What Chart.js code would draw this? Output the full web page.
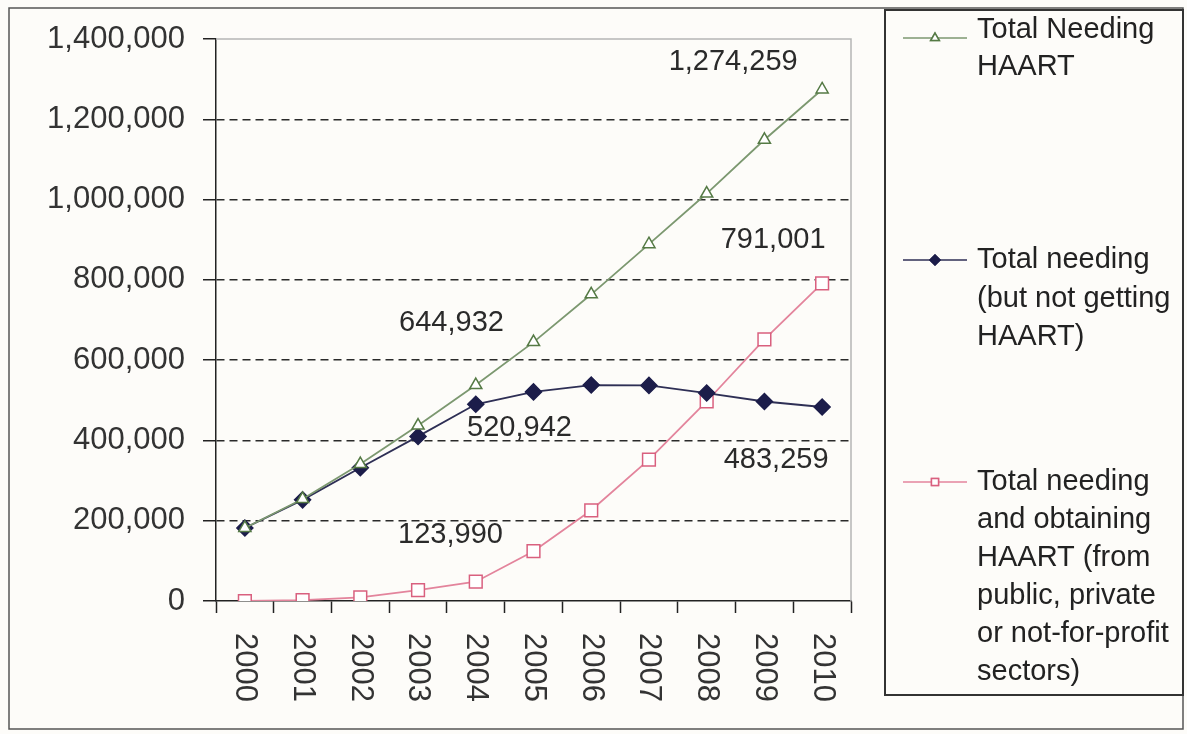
<!DOCTYPE html>
<html>
<head>
<meta charset="utf-8">
<style>
  html, body { margin: 0; padding: 0; background: #fdfcf9; }
  canvas { display: block; }
</style>
<script src="https://cdn.jsdelivr.net/npm/chart.js@4.4.1/dist/chart.umd.min.js"></script>
</head>
<body>
<canvas id="c" width="1187" height="734"></canvas>
<script>
// ---- data ----
const categories = ['2000','2001','2002','2003','2004','2005','2006','2007','2008','2009','2010'];
const totalNeeding = [182000, 254000, 341000, 437000, 538000, 644932, 764000, 889000, 1015000, 1149000, 1274259];
const needingNotGetting = [182000, 252000, 332000, 410000, 490000, 520942, 538000, 537000, 518000, 497000, 483259];
const needingObtaining = [0, 2000, 9000, 27000, 48000, 123990, 226000, 352000, 497000, 652000, 791001];
const yTickValues = [0, 200000, 400000, 600000, 800000, 1000000, 1200000, 1400000];
const seriesNames = [
  ['Total Needing', 'HAART'],
  ['Total needing', '(but not getting', 'HAART)'],
  ['Total needing', 'and obtaining', 'HAART (from', 'public, private', 'or not-for-profit', 'sectors)']
];
// which points carry a value label: [datasetIndex, pointIndex]
const labelledPoints = [[0,10],[2,10],[0,5],[1,5],[1,10],[2,5]];

// ---- styling ----
const labelOffsets = [[-89,-27],[-49,-43],[-82,-19],[-14,36],[-46,53],[-83,-16]];
const legendLayout = [
  {markerY: 38, lineYs: [30, 67]},
  {markerY: 260, lineYs: [260, 299, 337]},
  {markerY: 482, lineYs: [482, 520, 558, 596, 634, 672]}
];
const FONT = '"Liberation Sans", Arial, sans-serif';
const styles = [
  {line: '#7c9870', stroke: '#557a45', fill: '#ffffff', pointStyle: 'triangle', radius: 7},
  {line: '#2e2f55', stroke: '#1c1d4a', fill: '#1c1d4a', pointStyle: 'rectRot', radius: 8},
  {line: '#e3849c', stroke: '#d9607f', fill: '#ffffff', pointStyle: 'rect', radius: 9}
];
const seriesData = [totalNeeding, needingNotGetting, needingObtaining];
const fmt = v => v.toLocaleString('en-US');

const decorPlugin = {
  id: 'decor',
  beforeDraw(chart) {
    const ctx = chart.ctx;
    ctx.save();
    ctx.fillStyle = '#fdfcf9';
    ctx.fillRect(0, 0, chart.width, chart.height);
    ctx.restore();
  },
  beforeDatasetsDraw(chart) {
    const ctx = chart.ctx, a = chart.chartArea;
    ctx.save();
    ctx.strokeStyle = '#b5b5b5';
    ctx.lineWidth = 1.5;
    ctx.beginPath();
    ctx.moveTo(a.left, a.top);
    ctx.lineTo(a.right, a.top);
    ctx.lineTo(a.right, a.bottom);
    ctx.stroke();
    ctx.restore();
  },
  afterDraw(chart) {
    const ctx = chart.ctx;
    const xs = chart.scales.x;
    ctx.save();
    // x tick labels, rotated clockwise
    ctx.fillStyle = '#333';
    ctx.font = '31px ' + FONT;
    ctx.textAlign = 'left';
    ctx.textBaseline = 'middle';
    categories.forEach((c, i) => {
      const x = xs.getPixelForValue(i);
      ctx.save();
      ctx.translate(x, chart.chartArea.bottom + 32);
      ctx.rotate(Math.PI / 2);
      ctx.fillText(c, 0, 0);
      ctx.restore();
    });
    // value labels
    ctx.font = '29px ' + FONT;
    ctx.textAlign = 'center';
    ctx.fillStyle = '#2a2a2a';
    labelledPoints.forEach(([d, i], k) => {
      const pt = chart.getDatasetMeta(d).data[i];
      ctx.fillText(fmt(seriesData[d][i]), pt.x + labelOffsets[k][0], pt.y + labelOffsets[k][1]);
    });
    // outer frame
    ctx.strokeStyle = '#555';
    ctx.lineWidth = 1.5;
    ctx.strokeRect(9, 8, 1174, 721);
    // legend box
    ctx.strokeStyle = '#333';
    ctx.lineWidth = 2;
    ctx.strokeRect(885, 10, 298, 685);
    // legend entries
    ctx.font = '29px ' + FONT;
    ctx.textAlign = 'left';
    ctx.fillStyle = '#222';
    seriesNames.forEach((lines, s) => {
      const st = styles[s], L = legendLayout[s];
      ctx.strokeStyle = st.line;
      ctx.lineWidth = 1.5;
      ctx.beginPath();
      ctx.moveTo(903, L.markerY);
      ctx.lineTo(967, L.markerY);
      ctx.stroke();
      Chart.helpers.drawPoint(ctx, {pointStyle: st.pointStyle, radius: 5, borderWidth: 1.5, rotation: 0}, 935, L.markerY);
      ctx.fillStyle = st.fill;
      ctx.strokeStyle = st.stroke;
      ctx.fill();
      ctx.stroke();
      ctx.fillStyle = '#222';
      lines.forEach((t, j) => ctx.fillText(t, 977, L.lineYs[j]));
    });
    ctx.restore();
  }
};

new Chart(document.getElementById('c'), {
  type: 'line',
  data: {
    labels: categories,
    datasets: seriesData.map((d, s) => ({
      label: seriesNames[s].join(' '),
      data: d,
      borderColor: styles[s].line,
      borderWidth: 1.8,
      tension: 0,
      pointStyle: styles[s].pointStyle,
      pointRadius: styles[s].radius,
      pointBorderColor: styles[s].stroke,
      pointBackgroundColor: styles[s].fill,
      pointBorderWidth: 1.5,
      fill: false
    }))
  },
  options: {
    responsive: false,
    animation: false,
    devicePixelRatio: 1,
    layout: { padding: { top: 39, right: 336, bottom: 0, left: 0 } },
    plugins: { legend: { display: false }, tooltip: { enabled: false } },
    scales: {
      x: {
        offset: true,
        grid: { display: true, offset: true, drawOnChartArea: false, drawTicks: true, tickLength: 12, tickColor: '#222', tickWidth: 1.5 },
        border: { display: true, color: '#222', width: 1.5 },
        ticks: { display: false },
        afterFit(s) { s.height = 133; }
      },
      y: {
        min: 0,
        max: 1400000,
        afterBuildTicks(s) { s.ticks = yTickValues.map(v => ({value: v})); },
        grid: {
          color: c => (c.tick && (c.tick.value === 0 || c.tick.value === 1400000)) ? 'rgba(0,0,0,0)' : '#2a2a2a',
          lineWidth: 1.5,
          tickLength: 13,
          tickColor: '#222',
          tickWidth: 1.5
        },
        border: { display: true, color: '#222', width: 1.5, dash: [8, 5] },
        ticks: {
          padding: 18,
          color: '#333',
          font: { family: FONT, size: 31 },
          callback: v => fmt(v)
        },
        afterFit(s) { s.width = 216; }
      }
    }
  },
  plugins: [decorPlugin]
});
</script>
</body>
</html>
